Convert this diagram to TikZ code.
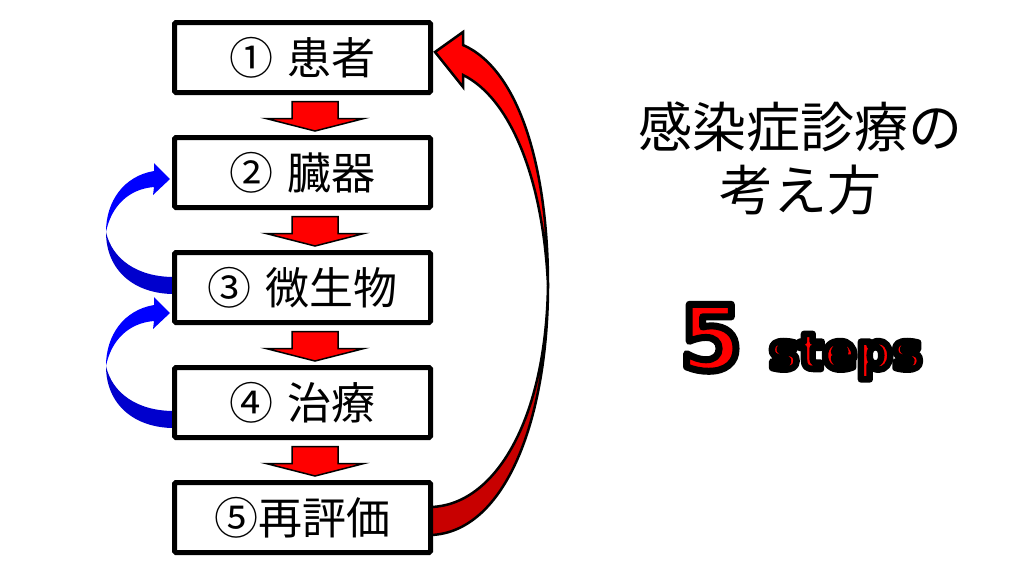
\documentclass[tikz,border=0pt]{standalone}
\usepackage{fontspec}
\usetikzlibrary{calc}
\newfontfamily\jp{Noto Sans CJK JP}
\newfontfamily\dvs{DejaVu Sans Bold}
\definecolor{arrred}{RGB}{255,0,0}
\definecolor{backred}{RGB}{200,0,0}
\definecolor{arrblue}{RGB}{0,0,255}
\definecolor{backblue}{RGB}{0,0,205}
\newcommand\strk[2]{\special{pdf:literal direct 0 G #1 w 1 j 2 Tr}#2\special{pdf:literal direct 0 Tr}}
\begin{document}
\begin{tikzpicture}[x=1pt,y=-1pt,
  stepbox/.style={draw=black, line width=5pt, rounded corners=1.5pt, fill=white,
    minimum width=256pt, minimum height=70pt, inner sep=0pt,
    font=\jp\fontsize{44}{44}\selectfont},
  downarr/.style={fill=arrred, draw=black, line width=1.5pt, line join=miter},
  frontblue/.style={fill=arrblue, draw=none},
  backblueS/.style={fill=backblue, draw=none},
  frontred/.style={fill=arrred, draw=black, line width=2.5pt, line join=miter},
  backredS/.style={fill=backred, draw=black, line width=2.5pt, line join=round},
  title/.style={font=\jp\fontsize{54}{54}\selectfont, inner sep=0pt}
]
\useasboundingbox[fill=white] (0,0) rectangle (1024,576);

% red return arrow (5 -> 1)
\draw[backredS] (548,285) .. controls (548,420) and (505,532) .. (431,535)
  -- (431,507) .. controls (495,505) and (546,420) .. (548,285) -- cycle;
\draw[frontred] (435,52) -- (463,32) -- (463,45)
  .. controls (520,70) and (548,170) .. (548,285)
  .. controls (543,178) and (510,98) .. (463,75) -- (463,87) -- cycle;

% blue arrows (4 -> 3) and (3 -> 2)
\foreach \dy in {0,-134}{
  \begin{scope}[shift={(0,\dy)}]
    \fill[backblueS] (106,366) .. controls (106,405) and (135,428) .. (174,428)
      -- (174,411) .. controls (137,411) and (112,393) .. (106,366) -- cycle;
    \fill[frontblue] (170,313) -- (154,297) -- (154,305)
      .. controls (124,310) and (106,335) .. (106,366)
      .. controls (111,341) and (128,323) .. (154,321) -- (153,329) -- cycle;
  \end{scope}
}

% step boxes
\node[stepbox] (s1) at (302.5,57.5) {①\hspace{0.3em}患者};
\node[stepbox] (s2) at (302.5,172.5) {②\hspace{0.3em}臓器};
\node[stepbox] (s3) at (302.5,287.5) {③\hspace{0.3em}微生物};
\node[stepbox] (s4) at (302.5,402.5) {④\hspace{0.3em}治療};
\node[stepbox] (s5) at (302.5,517.5) {⑤再評価};

% down arrows
\foreach \a/\b in {s1/s2,s2/s3,s3/s4,s4/s5}{
  \draw[downarr] ($(\a.south)+(-10.5,6.5)$) -- ++(46,0) -- ++(0,17) -- ++(26,0)
    -- ($(\b.north)+(12.5,-4)$) -- ($(\a.south)+(-36.5,23.5)$) -- ++(26,0) -- cycle;
}

% title
\node[title] (t1) at (800,127) {感染症診療の};
\node[title] (t2) at (800,190) {考え方};

% 5 steps
\node[anchor=base, inner sep=0pt, text=arrred, font=\dvs\fontsize{90}{90}\selectfont]
  (five) at (711,370) {\strk{7}{5}};
\node[anchor=base west, inner sep=0pt, text=arrred, font=\dvs\fontsize{50}{50}\selectfont]
  (steps) at (769,369) {\strk{6.5}{steps}};
\end{tikzpicture}
\end{document}
